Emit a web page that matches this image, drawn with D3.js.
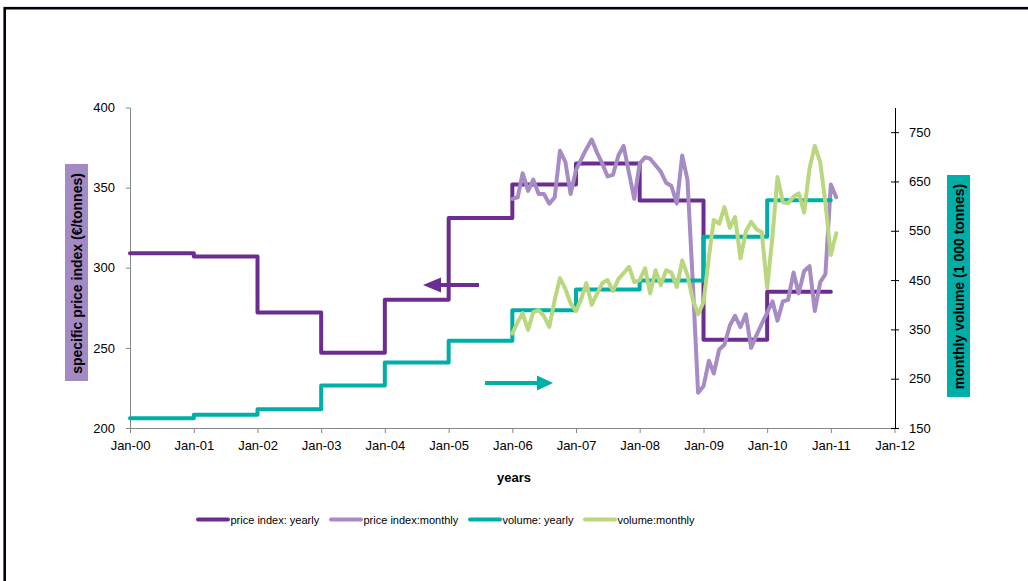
<!DOCTYPE html>
<html>
<head>
<meta charset="utf-8">
<script src="https://cdn.jsdelivr.net/npm/d3@7"></script>
<style>
  html, body { margin: 0; padding: 0; background: #fff; }
  svg { display: block; font-family: "Liberation Sans", Arial, sans-serif; }
</style>
</head>
<body>
<svg id="chart" width="1028" height="581"></svg>
<script>
// ---------- data ----------
const yearStarts = [2000, 2001, 2002, 2003, 2004, 2005, 2006, 2007, 2008, 2009, 2010];
const yearlyEnd = 2011;
const priceYearly  = [309, 307, 272, 247, 280, 331, 352, 365, 342, 255, 285];
const volumeYearly = [170, 177, 188, 236, 283, 327, 389, 431, 449, 538, 612];

// monthly series: Jan-06 ... Feb-11
const monthlyStart = [2006, 0];
const priceMonthly = [
  343, 344, 359, 348, 355, 346, 346, 340, 344, 373, 366, 346,
  361, 368, 374, 380, 372, 365, 357, 358, 370, 376, 359, 343,
  365, 369, 368, 364, 360, 353, 351, 340, 370, 355, 290, 222,
  226, 242, 234, 249, 252, 264, 270, 263, 271, 250, 258, 265,
  272, 279, 267, 279, 280, 297, 284, 298, 301, 273, 291, 296,
  352, 344
];
const volumeMonthly = [
  342, 365, 383, 349, 385, 389, 377, 355, 410, 454, 432, 403,
  387, 413, 444, 400, 422, 444, 450, 428, 452, 464, 477, 446,
  450, 474, 423, 470, 440, 470, 465, 436, 490, 460, 410, 381,
  405, 497, 572, 564, 598, 556, 578, 494, 549, 568, 553, 547,
  434, 541, 659, 608, 606, 619, 626, 587, 677, 722, 689, 606,
  501, 545
];

const xTickYears = d3.range(2000, 2013);
const leftTicks = [200, 250, 300, 350, 400];
const rightTicks = [150, 250, 350, 450, 550, 650, 750];

const legendItems = ["price index: yearly", "price index:monthly", "volume: yearly", "volume:monthly"];
const titleLeft = "specific price index (€/tonnes)";
const titleRight = "monthly volume (1 000 tonnes)";
const titleX = "years";

// ---------- styles ----------
const C = {
  priceY: "#6b2d91",
  priceM: "#a68bc5",
  volY: "#00aea8",
  volM: "#b8d77e",
  axisGrey: "#868686"
};

const svg = d3.select("#chart");
svg.append("rect").attr("width", 1028).attr("height", 581).attr("fill", "#fff");
svg.append("rect").attr("x", 4.7).attr("y", 8.2).attr("width", 1040).attr("height", 600)
  .attr("fill", "none").attr("stroke", "#000010").attr("stroke-width", 2.6);

const x = d3.scaleTime()
  .domain([new Date(2000, 0, 1), new Date(2012, 0, 1)])
  .range([130, 894.5]);
const yL = d3.scaleLinear().domain([200, 400]).range([428, 107.5]);
const yR = d3.scaleLinear().domain([150, 800]).range([428, 107.5]);

// ---------- axes ----------
const gx = svg.append("g").attr("transform", "translate(0,428)")
  .call(d3.axisBottom(x)
    .tickValues(xTickYears.map(y => new Date(y, 0, 1)))
    .tickFormat(d3.timeFormat("%b-%y"))
    .tickSize(5).tickSizeOuter(0).tickPadding(8));
gx.select(".domain").attr("stroke", C.axisGrey).attr("d", "M130,0.5H895");
gx.selectAll(".tick line").attr("stroke", C.axisGrey);
gx.selectAll("text").attr("font-size", 13).attr("fill", "#000")
  .attr("font-family", "Liberation Sans, Arial, sans-serif");

const gl = svg.append("g").attr("transform", "translate(130,0)")
  .call(d3.axisLeft(yL).tickValues(leftTicks).tickSize(4).tickSizeOuter(0).tickPadding(11));
gl.select(".domain").attr("stroke", C.axisGrey);
gl.selectAll(".tick line").attr("stroke", C.axisGrey);
gl.selectAll("text").attr("font-size", 13).attr("fill", "#000")
  .attr("font-family", "Liberation Sans, Arial, sans-serif");

const gr = svg.append("g").attr("transform", "translate(895,0)")
  .call(d3.axisRight(yR).tickValues(rightTicks).tickSize(4).tickSizeOuter(0).tickPadding(10));
gr.select(".domain").attr("stroke", "#000");
gr.selectAll(".tick line").attr("stroke", "#000").attr("x1", -4).attr("x2", 4);
gr.selectAll("text").attr("font-size", 13).attr("fill", "#000")
  .attr("font-family", "Liberation Sans, Arial, sans-serif");

// ---------- axis titles ----------
svg.append("rect").attr("x", 65).attr("y", 164).attr("width", 23).attr("height", 217).attr("fill", "#a48ac4");
svg.append("text").attr("transform", "translate(81.5,273.5) rotate(-90)")
  .attr("text-anchor", "middle").attr("font-size", 14).attr("font-weight", "bold").text(titleLeft);

svg.append("rect").attr("x", 947).attr("y", 175).attr("width", 23).attr("height", 222).attr("fill", "#00aea8");
svg.append("text").attr("transform", "translate(963.5,286.5) rotate(-90)")
  .attr("text-anchor", "middle").attr("font-size", 14).attr("font-weight", "bold").text(titleRight);

svg.append("text").attr("x", 514).attr("y", 482).attr("text-anchor", "middle")
  .attr("font-size", 13).attr("font-weight", "bold").text(titleX);

// ---------- series ----------
const stepPts = (vals) => {
  const pts = yearStarts.map((y, i) => [new Date(y, 0, 1), vals[i]]);
  pts.push([new Date(yearlyEnd, 0, 1), vals[vals.length - 1]]);
  return pts;
};
const monthPts = (vals) => vals.map((v, i) => [new Date(monthlyStart[0], monthlyStart[1] + i, 1), v]);

const lineStep = (ys) => d3.line().x(d => x(d[0])).y(d => ys(d[1])).curve(d3.curveStepAfter);
const lineM = (ys) => d3.line().x(d => x(d[0])).y(d => ys(d[1]));

function draw(path, color) {
  svg.append("path").attr("d", path).attr("fill", "none").attr("stroke", color)
    .attr("stroke-width", 4).attr("stroke-linejoin", "round").attr("stroke-linecap", "round");
}
draw(lineStep(yL)(stepPts(priceYearly)), C.priceY);
draw(lineM(yL)(monthPts(priceMonthly)), C.priceM);
draw(lineStep(yR)(stepPts(volumeYearly)), C.volY);
draw(lineM(yR)(monthPts(volumeMonthly)), C.volM);

// ---------- arrows ----------
svg.append("line").attr("x1", 479).attr("x2", 436).attr("y1", 285).attr("y2", 285)
  .attr("stroke", C.priceY).attr("stroke-width", 4);
svg.append("path").attr("d", "M423,285L441,277.5L441,292.5Z").attr("fill", C.priceY);

svg.append("line").attr("x1", 485).attr("x2", 540).attr("y1", 383).attr("y2", 383)
  .attr("stroke", C.volY).attr("stroke-width", 4);
svg.append("path").attr("d", "M553,383L537,375.5L537,390.5Z").attr("fill", C.volY);

// ---------- legend ----------
const legX = [198, 331, 470, 585];
const legC = [C.priceY, C.priceM, C.volY, C.volM];
legendItems.forEach((t, i) => {
  svg.append("line").attr("x1", legX[i]).attr("x2", legX[i] + 30).attr("y1", 519.5).attr("y2", 519.5)
    .attr("stroke", legC[i]).attr("stroke-width", 4).attr("stroke-linecap", "round");
  svg.append("text").attr("x", legX[i] + 32.5).attr("y", 523.5).attr("font-size", 11).text(t);
});
</script>
</body>
</html>
